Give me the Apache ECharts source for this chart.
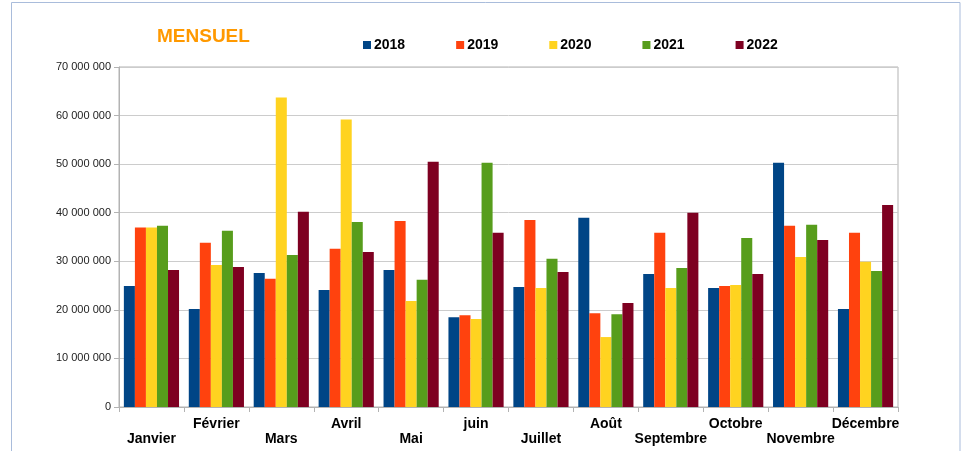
<!DOCTYPE html>
<html>
<head>
<meta charset="utf-8">
<script src="https://cdn.jsdelivr.net/npm/echarts@6/dist/echarts.min.js"></script>
<style>html,body{margin:0;padding:0;background:#fff;}#c{width:970px;height:451px;}</style>
</head>
<body>
<div id="c"></div>
<script>
const months = ['Janvier','Février','Mars','Avril','Mai','juin','Juillet','Août','Septembre','Octobre','Novembre','Décembre'];
const years = ['2018','2019','2020','2021','2022'];
const v2018 = [24900000,20200000,27600000,24100000,28200000,18500000,24700000,38950000,27400000,24500000,50300000,20200000];
const v2019 = [36950000,33800000,26400000,32600000,38300000,18900000,38500000,19300000,35900000,24900000,37300000,35900000];
const v2020 = [36950000,29250000,63700000,59200000,21800000,18100000,24500000,14400000,24500000,25100000,30900000,29900000];
const v2021 = [37300000,36300000,31300000,38100000,26200000,50300000,30500000,19100000,28600000,34800000,37500000,28000000];
const v2022 = [28200000,28800000,40200000,31900000,50500000,35900000,27800000,21400000,40000000,27400000,34400000,41600000];
const yTicks = {min:0, max:70000000, interval:10000000};
const colors = ['#004586','#ff420e','#ffd320','#579d1c','#7e0021'];
const seriesValues = [v2018,v2019,v2020,v2021,v2022];

const chart = echarts.init(document.getElementById('c'));
chart.setOption({
  animation:false,
  color: colors,
  textStyle:{fontFamily:'Liberation Sans, Arial, sans-serif'},
  graphic:[{type:'rect',shape:{x:11.5,y:2.5,width:948.5,height:470},style:{fill:'none',stroke:'#a9bcdb',lineWidth:1},silent:true}],
  title:{text:'MENSUEL',left:152,top:22,textStyle:{color:'#ff9900',fontSize:19,fontWeight:'bold',fontFamily:'Liberation Sans, Arial, sans-serif'}},
  legend:{data:years,left:358,top:33,itemWidth:8,itemHeight:8,itemGap:51,icon:'rect',
    textStyle:{fontSize:14,fontWeight:'bold',color:'#000',padding:[0,0,0,-2]}},
  grid:{left:119,right:72,top:67,bottom:44,show:true,borderColor:'#b3b3b3',borderWidth:1,containLabel:false},
  xAxis:{type:'category',data:months,
    axisLine:{lineStyle:{color:'#b3b3b3',width:1}},
    axisTick:{show:true,length:5,lineStyle:{color:'#b3b3b3'}},
    axisLabel:{interval:0,margin:10,color:'#000',fontSize:14,fontWeight:'bold',lineHeight:15,
      formatter:(v,i)=> i%2===0 ? '\n'+v : v}},
  yAxis:{type:'value',min:yTicks.min,max:yTicks.max,interval:yTicks.interval,
    axisLine:{show:true,lineStyle:{color:'#b3b3b3',width:1}},
    axisTick:{show:true,length:5,lineStyle:{color:'#b3b3b3'}},
    splitLine:{lineStyle:{color:'#cccccc',width:1}},
    axisLabel:{margin:8,color:'#222',fontSize:11,
      formatter:v=>String(v).replace(/\B(?=(\d{3})+(?!\d))/g,' ')}},
  series: years.map((y,i)=>({name:y,type:'bar',data:seriesValues[i],barGap:'0%',barCategoryGap:'15%'}))
});
</script>
</body>
</html>
